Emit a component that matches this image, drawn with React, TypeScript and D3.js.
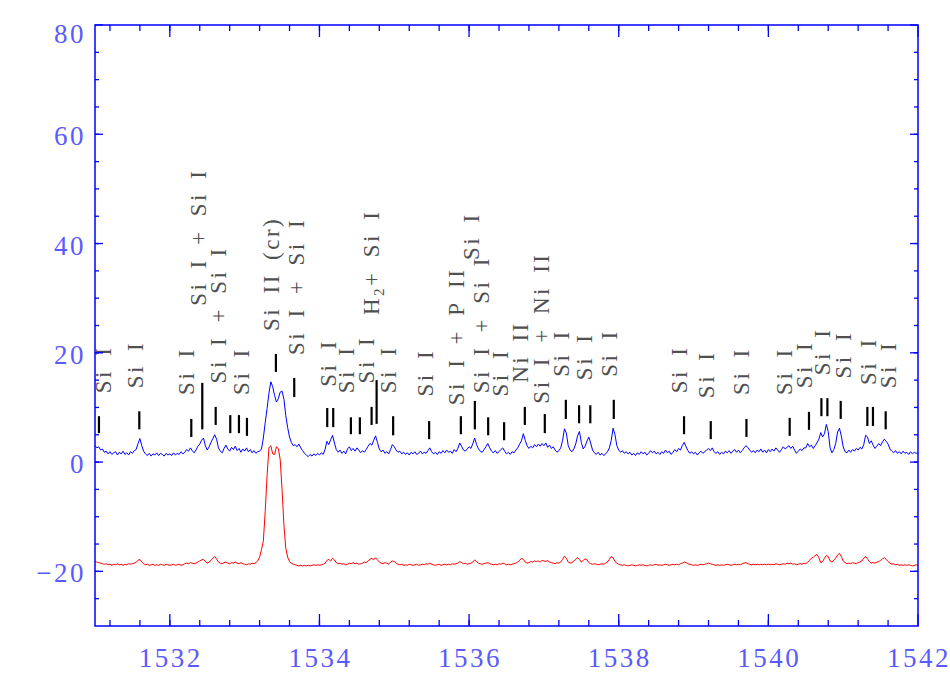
import React from "react";
import * as d3 from "d3";

// ---------- DATA ----------
const WL_START = 1531;
const WL_STEP = 0.025;

// blue spectrum (upper), one row per Angstrom, step 0.025
const blueFlux: number[] = [
  3.0,2.6,2.8,2.2,2.4,1.8,2.0,1.5,1.9,1.4,1.7,1.9,1.3,1.8,1.5,2.0,1.4,1.7,1.3,1.9,1.6,2.1,2.3,3.4,4.3,3.0,2.0,1.5,1.2,1.6,1.1,1.5,1.3,1.7,1.2,1.6,1.4,1.1,1.6,1.3,
  1.5,1.2,1.7,1.3,1.6,1.4,1.9,1.5,1.8,2.3,2.0,2.6,2.1,1.7,2.2,2.9,3.3,4.0,4.4,3.0,2.2,2.8,3.6,4.3,5.0,4.2,2.6,2.0,1.7,2.5,3.1,2.4,2.0,2.7,2.3,2.9,2.1,2.5,1.8,2.4,
  2.0,2.6,1.9,2.3,1.7,2.1,1.6,1.9,2.0,2.4,4.4,7.2,9.8,12.6,14.7,13.8,12.2,11.0,11.6,12.8,13.0,11.5,8.5,6.3,4.6,3.6,3.0,3.2,2.8,3.3,2.6,2.1,1.6,1.3,1.0,1.4,1.1,1.5,1.2,1.6,
  1.3,1.7,1.4,2.3,3.8,3.2,4.1,4.9,3.5,2.3,1.8,2.2,1.6,2.0,1.5,2.4,2.8,2.1,2.5,2.0,2.6,2.2,1.7,2.1,1.8,2.3,2.9,3.4,3.1,4.0,4.8,3.6,2.4,1.9,2.2,1.6,1.9,1.5,2.3,3.2,
  2.8,2.2,1.8,2.0,1.5,1.8,1.4,1.7,1.3,1.8,1.5,1.9,1.4,1.6,2.0,1.5,1.8,1.6,2.1,2.6,1.9,1.5,1.8,1.4,1.9,1.6,2.1,1.7,2.2,1.8,2.0,1.6,2.3,1.9,2.5,3.5,2.9,2.2,2.0,2.4,
  2.8,2.5,3.4,4.4,3.2,2.4,2.0,1.8,2.3,2.8,3.4,2.6,2.0,1.7,2.1,1.6,1.9,2.3,2.6,2.0,1.5,1.8,1.4,1.9,1.7,2.2,2.6,3.3,3.9,5.2,4.0,3.0,2.5,2.9,2.6,3.2,2.8,3.3,2.9,3.4,
  3.0,3.5,2.7,3.1,2.5,2.8,2.2,1.8,2.1,2.6,4.0,6.1,5.3,3.0,2.2,1.9,2.4,3.3,4.8,5.6,3.6,2.4,2.9,3.8,4.6,3.5,2.2,1.7,1.4,1.8,1.3,1.6,1.2,1.5,1.9,2.6,4.0,6.2,5.0,3.0,
  2.2,1.8,2.1,1.6,1.9,1.5,1.8,1.3,1.6,1.2,1.7,1.4,1.9,1.5,1.8,1.3,1.6,2.1,1.7,2.0,1.5,1.8,1.4,1.9,1.6,2.2,1.7,2.0,1.4,1.8,2.3,1.9,2.5,2.2,3.0,3.6,2.8,2.1,1.6,1.9,
  1.5,1.8,1.3,1.7,2.0,1.6,1.9,2.2,2.5,2.1,2.6,1.9,1.6,1.9,1.4,1.8,1.5,2.0,1.7,2.1,1.6,2.0,2.3,1.8,2.2,1.7,2.1,2.6,3.0,2.7,2.2,1.8,2.1,1.7,2.2,1.9,2.4,1.8,2.2,1.7,
  2.3,1.9,2.4,2.0,2.6,2.2,1.8,2.3,2.8,2.4,2.7,3.0,2.5,2.9,2.2,1.6,2.0,2.4,2.1,2.6,2.6,3.4,2.8,3.1,2.5,3.0,3.5,4.2,5.4,4.6,5.2,6.9,5.6,2.6,1.7,2.3,3.4,5.5,6.2,4.8,
  2.8,1.9,1.7,2.2,1.8,2.3,2.0,2.5,2.2,2.7,2.4,3.2,4.9,4.6,3.4,3.9,3.1,2.5,2.9,3.4,3.0,3.7,4.2,3.8,3.3,2.4,2.0,1.7,2.1,1.6,1.9,1.5,2.0,1.6,1.8,1.4,1.9,1.5,1.8,1.6,
  1.7,
];

// red spectrum (lower), same sampling
const redFlux: number[] = [
  -18.2,-18.3,-18.4,-18.5,-18.6,-18.7,-18.6,-18.8,-18.7,-18.9,-18.7,-18.8,-18.6,-18.8,-18.7,-18.9,-18.7,-18.8,-18.6,-18.7,-18.6,-18.5,-18.3,-18.0,-17.8,-18.3,-18.6,-18.8,-18.7,-18.9,-18.8,-18.7,-18.9,-18.8,-18.9,-18.7,-18.8,-18.9,-18.7,-18.8,
  -18.9,-18.8,-18.7,-18.9,-18.8,-18.7,-18.9,-18.8,-18.6,-18.5,-18.6,-18.4,-18.5,-18.6,-18.5,-18.3,-18.1,-17.9,-17.8,-18.2,-18.5,-18.3,-18.0,-17.6,-17.3,-17.7,-18.3,-18.5,-18.6,-18.4,-18.3,-18.5,-18.6,-18.4,-18.5,-18.3,-18.5,-18.6,-18.4,-18.6,
  -18.7,-18.8,-18.6,-18.7,-18.5,-18.6,-18.4,-18.1,-17.4,-16.0,-14.5,-9.0,-2.5,2.6,3.0,1.5,1.4,2.8,2.5,0.5,-5.0,-11.5,-15.8,-17.4,-18.2,-18.5,-18.7,-18.8,-18.9,-19.0,-18.9,-19.0,-18.9,-19.0,-18.9,-19.0,-18.9,-18.8,-18.9,-18.8,
  -18.9,-18.8,-18.7,-18.5,-18.0,-17.8,-18.1,-17.6,-17.9,-18.4,-18.6,-18.5,-18.7,-18.6,-18.8,-18.7,-18.5,-18.6,-18.4,-18.6,-18.5,-18.7,-18.6,-18.5,-18.3,-18.4,-18.1,-17.8,-17.6,-17.9,-17.5,-17.9,-18.3,-18.5,-18.6,-18.4,-18.5,-18.7,-18.3,-18.1,
  -18.2,-18.5,-18.7,-18.8,-18.7,-18.9,-18.8,-18.9,-18.7,-18.8,-18.9,-18.8,-18.7,-18.9,-18.8,-18.7,-18.8,-18.6,-18.7,-18.5,-18.7,-18.8,-18.9,-18.8,-18.7,-18.9,-18.8,-18.7,-18.8,-18.7,-18.8,-18.6,-18.7,-18.6,-18.5,-18.2,-18.4,-18.6,-18.5,-18.7,
  -18.6,-18.5,-18.3,-17.9,-18.2,-18.5,-18.6,-18.7,-18.6,-18.5,-18.4,-18.6,-18.7,-18.8,-18.7,-18.8,-18.6,-18.7,-18.5,-18.6,-18.8,-18.7,-18.8,-18.7,-18.6,-18.5,-18.3,-18.0,-17.6,-17.8,-18.3,-18.5,-18.4,-18.2,-18.3,-18.1,-18.2,-18.1,-18.3,-18.0,
  -18.1,-18.2,-18.0,-18.3,-18.4,-18.5,-18.6,-18.4,-18.5,-18.3,-17.8,-17.2,-17.6,-18.3,-18.5,-18.4,-18.1,-17.8,-17.5,-17.8,-18.3,-18.0,-17.7,-17.9,-18.4,-18.6,-18.7,-18.6,-18.7,-18.8,-18.7,-18.6,-18.7,-18.5,-18.3,-17.8,-17.3,-17.5,-18.2,-18.5,
  -18.7,-18.8,-18.9,-18.8,-18.9,-19.0,-18.9,-18.8,-18.9,-19.0,-18.9,-18.8,-18.9,-18.8,-18.9,-19.0,-18.9,-18.8,-18.9,-18.8,-18.7,-18.9,-18.8,-18.9,-18.8,-18.7,-18.8,-18.9,-18.8,-18.7,-18.8,-18.7,-18.8,-18.6,-18.5,-18.3,-18.4,-18.6,-18.7,-18.8,
  -18.9,-18.8,-18.9,-18.8,-18.7,-18.8,-18.7,-18.6,-18.5,-18.6,-18.7,-18.8,-18.9,-18.8,-18.9,-18.8,-18.9,-18.8,-18.7,-18.8,-18.9,-18.8,-18.7,-18.8,-18.7,-18.8,-18.6,-18.5,-18.4,-18.6,-18.7,-18.8,-18.7,-18.8,-18.7,-18.8,-18.7,-18.8,-18.7,-18.8,
  -18.7,-18.8,-18.7,-18.8,-18.6,-18.7,-18.8,-18.7,-18.6,-18.7,-18.5,-18.6,-18.5,-18.7,-18.6,-18.8,-18.7,-18.6,-18.7,-18.5,-18.6,-18.3,-18.0,-17.6,-17.4,-17.1,-16.9,-17.5,-18.4,-18.2,-17.6,-17.1,-17.3,-18.1,-18.3,-17.9,-17.6,-17.0,-16.7,-17.3,
  -18.1,-18.4,-18.6,-18.5,-18.6,-18.4,-18.5,-18.6,-18.4,-18.3,-18.1,-17.6,-17.3,-17.7,-18.2,-18.5,-18.4,-18.5,-18.3,-18.2,-18.0,-17.7,-17.5,-17.8,-18.2,-18.5,-18.7,-18.6,-18.8,-18.7,-18.9,-18.8,-18.9,-18.8,-18.9,-18.8,-18.9,-19.0,-18.9,-18.8,
  -18.9,
];

// axis ticks
const xMajorTicks = [1532, 1534, 1536, 1538, 1540, 1542];
const xTickLabels = ["1532", "1534", "1536", "1538", "1540", "1542"];
const yMajorTicks = [-20, 0, 20, 40, 60, 80];
const yTickLabels = ["\u221220", "0", "20", "40", "60", "80"];

// line identification marks (wavelength, top value, bottom value)
const markWl = [1531.053,1531.592,1532.287,1532.434,1532.613,1532.808,1532.924,1533.031,1533.418,1533.663,1534.104,1534.184,1534.420,1534.540,1534.697,1534.764,1534.985,1535.466,1535.890,1536.077,1536.255,1536.468,1536.745,1537.012,1537.293,1537.470,1537.620,1537.934,1538.873,1539.230,1539.707,1540.285,1540.543,1540.709,1540.789,1540.967,1541.323,1541.398,1541.568];
const markTop = [8.4,9.3,7.9,14.5,10.1,8.6,8.6,8.1,19.8,15.4,9.9,9.9,8.2,8.2,10.1,15.0,8.4,7.5,8.4,11.2,8.2,7.3,10.1,8.8,11.4,10.4,10.4,11.4,8.4,7.5,7.9,8.1,9.2,11.7,11.7,11.2,10.1,10.1,9.3];
const markBottom = [5.3,6.0,4.6,6.0,6.8,5.3,5.3,4.8,16.5,11.9,6.4,6.4,5.1,5.1,6.8,7.0,4.9,4.2,5.1,6.0,4.9,4.0,6.8,5.3,7.9,7.1,7.1,7.9,5.1,4.2,4.6,4.8,5.9,8.4,8.4,7.9,6.6,6.6,6.0];

// line labels (text, wavelength of baseline, value where text starts)
const labelText = ["Si I","Si I","Si I","Si I + Si I","Si I + Si I","Si I","Si II (cr)","Si I + Si I","Si I","Si I","Si I","H_2+ Si I","Si I","Si I","Si I + P II","Si I","Si I + Si I","Si I","Ni II","Si I + Ni II","Si I","Si I","Si I","Si I","Si I","Si I","Si I","Si I","Si I","Si I","Si I","Si I"];
const labelWl = [1531.220,1531.641,1532.327,1532.483,1532.750,1533.061,1533.462,1533.799,1534.220,1534.464,1534.732,1534.798,1535.021,1535.512,1535.934,1536.134,1536.264,1536.514,1536.792,1537.069,1537.337,1537.649,1537.983,1538.918,1539.274,1539.741,1540.321,1540.589,1540.824,1541.100,1541.434,1541.701];
const labelY = [12.6,13.5,12.3,28.6,14.4,12.3,24.0,19.6,13.8,12.6,14.4,26.9,12.6,12.0,10.4,37.0,12.6,12.0,14.5,10.7,15.6,15.0,15.6,12.6,11.7,12.3,12.3,13.5,15.9,15.3,14.1,13.5];

// ---------- CHART ----------
const W = 950;
const H = 700;
const AXIS = "#0000ff";
const TICKTXT = "#5a5aff";

function Label({ text }: { text: string }) {
  if (text.includes("_")) {
    const [pre, post] = text.split("_");
    return (
      <>
        {pre}
        <tspan fontSize={15} dy={5}>{post.charAt(0)}</tspan>
        <tspan dy={-5}>{post.slice(1)}</tspan>
      </>
    );
  }
  return <>{text}</>;
}

export default function App() {
  const x = d3.scaleLinear().domain([1531, 1542]).range([95, 918]);
  const y = d3.scaleLinear().domain([-30, 80]).range([626, 25]);
  const [x0, x1] = x.range();
  const [y0, y1] = y.range();

  const line = d3
    .line<number>()
    .x((_, i) => x(WL_START + i * WL_STEP))
    .y((d) => y(d));

  const xMinor = d3
    .range(28)
    .map((i) => 1531.2 + 0.4 * i)
    .filter((v) => v < 1541.99);
  const yMinor = d3.range(-25, 80, 5);

  const serif = "'Liberation Serif', 'DejaVu Serif', serif";

  return (
    <svg
      width={W}
      height={H}
      style={{ position: "absolute", left: 0, top: 0, display: "block", background: "#fff" }}
    >
      {/* spectra */}
      <path d={line(redFlux) || ""} fill="none" stroke="#ff0000" strokeWidth={1} />
      <path d={line(blueFlux) || ""} fill="none" stroke="#0000ff" strokeWidth={1} />

      {/* identification marks */}
      {markWl.map((w, i) => (
        <line
          key={"m" + i}
          x1={x(w)}
          x2={x(w)}
          y1={y(markTop[i])}
          y2={y(markBottom[i])}
          stroke="#000"
          strokeWidth={2.2}
        />
      ))}

      {/* labels */}
      {labelText.map((t, i) => (
        <text
          key={"l" + i}
          transform={`translate(${x(labelWl[i])},${y(labelY[i])}) rotate(-90)`}
          fontFamily={serif}
          fontSize={23}
          fill="#505050"
          style={{ letterSpacing: "2.5px", wordSpacing: "5px" }}
        >
          <Label text={t} />
        </text>
      ))}

      {/* axes box */}
      <rect x={x0} y={y1} width={x1 - x0} height={y0 - y1} fill="none" stroke={AXIS} strokeWidth={1.5} />

      {/* x ticks bottom & top */}
      {xMinor.map((v, i) => (
        <g key={"xm" + i} stroke={AXIS} strokeWidth={1.3}>
          <line x1={x(v)} x2={x(v)} y1={y0} y2={y0 - 6} />
          <line x1={x(v)} x2={x(v)} y1={y1} y2={y1 + 6} />
        </g>
      ))}
      {xMajorTicks.map((v, i) => (
        <g key={"xM" + i} stroke={AXIS} strokeWidth={1.3}>
          <line x1={x(v)} x2={x(v)} y1={y0} y2={y0 - 12} />
          <line x1={x(v)} x2={x(v)} y1={y1} y2={y1 + 12} />
        </g>
      ))}
      {xMajorTicks.map((v, i) => (
        <text
          key={"xl" + i}
          x={x(v) + 1}
          y={667}
          textAnchor="middle"
          fontFamily={serif}
          fontSize={27}
          fill={TICKTXT}
          style={{ letterSpacing: "2.5px" }}
        >
          {xTickLabels[i]}
        </text>
      ))}

      {/* y ticks left & right */}
      {yMinor.map((v, i) => (
        <g key={"ym" + i} stroke={AXIS} strokeWidth={1.3}>
          <line x1={x0} x2={x0 + 4} y1={y(v)} y2={y(v)} />
          <line x1={x1} x2={x1 - 4} y1={y(v)} y2={y(v)} />
        </g>
      ))}
      {yMajorTicks.map((v, i) => (
        <g key={"yM" + i} stroke={AXIS} strokeWidth={1.3}>
          <line x1={x0} x2={x0 + 8} y1={y(v)} y2={y(v)} />
          <line x1={x1} x2={x1 - 8} y1={y(v)} y2={y(v)} />
        </g>
      ))}
      {yMajorTicks.map((v, i) => (
        <text
          key={"yl" + i}
          x={86}
          y={Math.max(y(v) + 2, y1 + 9)}
          textAnchor="end"
          dominantBaseline="central"
          fontFamily={serif}
          fontSize={27}
          fill={TICKTXT}
          style={{ letterSpacing: "2.5px" }}
        >
          {yTickLabels[i]}
        </text>
      ))}
    </svg>
  );
}
